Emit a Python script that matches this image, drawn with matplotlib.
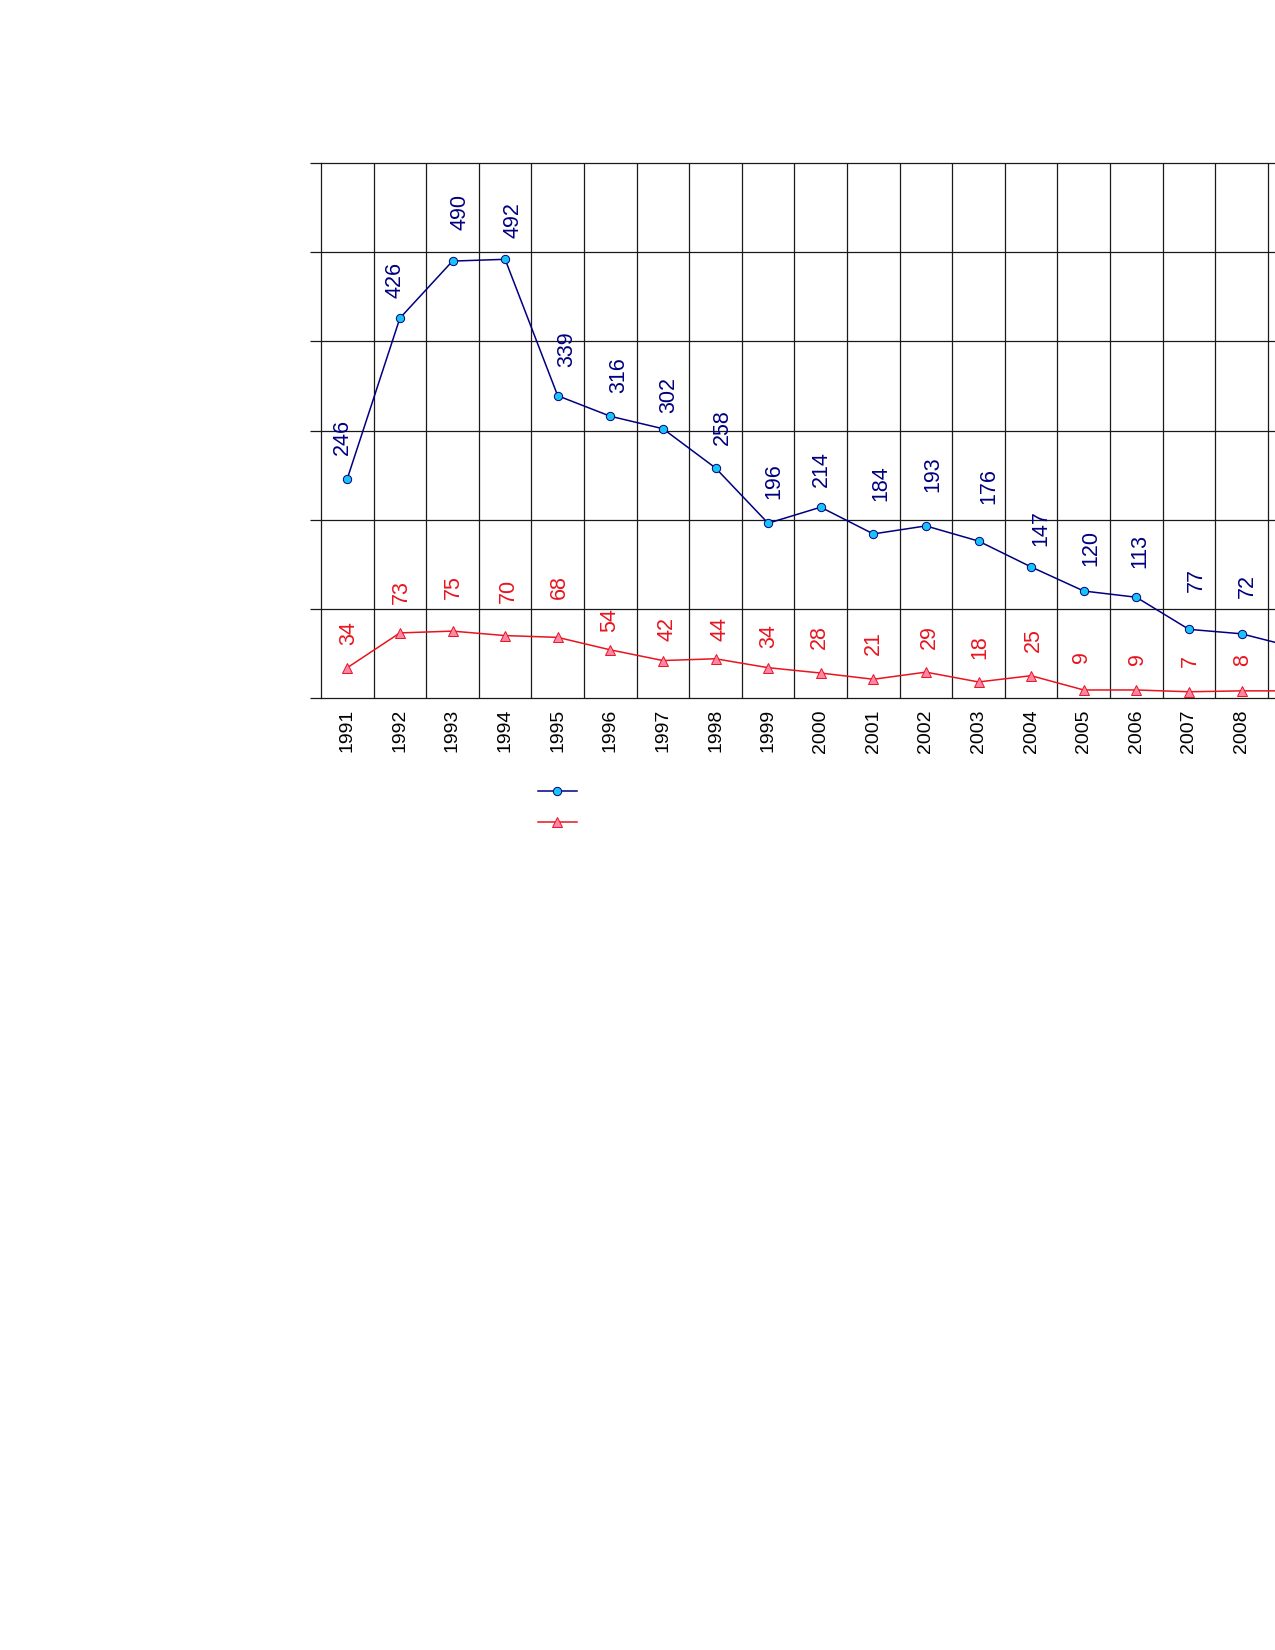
import numpy as np
import matplotlib
matplotlib.use('Agg')
import matplotlib.pyplot as plt
from matplotlib.lines import Line2D

plt.rcParams['font.family'] = ['Liberation Sans', 'DejaVu Sans']

years = ['1991', '1992', '1993', '1994', '1995', '1996', '1997', '1998', '1999', '2000',
         '2001', '2002', '2003', '2004', '2005', '2006', '2007', '2008', '2009']
blue_vals = [246, 426, 490, 492, 339, 316, 302, 258, 196, 214, 184, 193, 176, 147, 120, 113, 77, 72, 57]
red_vals = [34, 73, 75, 70, 68, 54, 42, 44, 34, 28, 21, 29, 18, 25, 9, 9, 7, 8, 8]

# label nudges in pixels (dx, dy from the point), as placed in the original
blue_dx = [-6, -6, 6, 7, 8, 7, 5, 6, 5, 0, 7, 6, 9, 9, 6, 3, 6, 5, 5]
blue_dy = [24, 20, 31, 21, 29, 23, 16, 23, 24, 20, 33, 34, 37, 21, 25, 29, 37, 36, 30]
red_dx = [0, 0, 0, 2, 1, -2, 3, 3, 0, -2, -1, 2, 0, 1, -3, 0, 0, 0, 0]
red_dy = [23, 29, 32, 33, 38, 18, 20, 18, 20, 24, 24, 23, 23, 24, 27, 25, 25, 25, 25]

BLUE = '#000080'
BLUE_FACE = '#19c3f5'
RED = '#e8141e'
RED_FACE = '#ff85a8'

x = np.arange(1, len(years) + 1)

fig = plt.figure(figsize=(12.75, 16.5), dpi=100)
ax = fig.add_axes([321 / 1275, 1 - 698 / 1650, 1 - 321 / 1275, (698 - 163) / 1650])

ax.plot(x, blue_vals, color=BLUE, lw=1.1, marker='o', ms=6, mfc=BLUE_FACE, mec=BLUE, mew=0.7, zorder=3)
ax.plot(x, red_vals, color=RED, lw=1.1, marker='^', ms=7, mfc=RED_FACE, mec=RED, mew=0.7, zorder=3)

# value labels above the points
for xi, v, dx, dy in zip(x, blue_vals, blue_dx, blue_dy):
    ax.annotate(str(v), (xi, v), xytext=(dx + 1, dy), textcoords='offset pixels',
                rotation=90, ha='center', va='bottom', color=BLUE, fontsize=15.5)
for xi, v, dx, dy in zip(x, red_vals, red_dx, red_dy):
    ax.annotate(str(v), (xi, v), xytext=(dx + 1, dy), textcoords='offset pixels',
                rotation=90, ha='center', va='bottom', color=RED, fontsize=15.5)

# grid: column boundaries and every 100
for b in np.arange(1.5, len(years) + 1, 1):
    ax.axvline(b, color='#1a1a1a', lw=0.9, zorder=1)
for g in range(100, 600, 100):
    ax.axhline(g, color='#1a1a1a', lw=0.9, zorder=1)

ax.set_yticks(range(0, 700, 100))
ax.set_yticklabels([])
ax.tick_params(axis='y', length=8, width=0.9, color='#1a1a1a')
ax.set_xticks(x)
ax.set_xticklabels(years, rotation=90, fontsize=14)
ax.tick_params(axis='x', length=0, pad=8)

# set limits after the ticks, so the last column is cut at the page edge
ax.set_xlim(0.5, 0.5 + (1275 - 321) / 52.6)
ax.set_ylim(0, 600)

ax.spines['right'].set_visible(False)
for s in ['left', 'top', 'bottom']:
    ax.spines[s].set_linewidth(0.9)
    ax.spines[s].set_color('#1a1a1a')

handles = [Line2D([], [], color=BLUE, lw=1.1, marker='o', ms=6, mfc=BLUE_FACE, mec=BLUE, mew=0.7),
           Line2D([], [], color=RED, lw=1.1, marker='^', ms=7, mfc=RED_FACE, mec=RED, mew=0.7)]
fig.legend(handles, ['', ''], loc='upper left', bbox_to_anchor=(528 / 1275, 1 - 774 / 1650),
           frameon=False, borderpad=0, handlelength=2.0, handletextpad=0, labelspacing=0.7,
           fontsize=14)

fig.savefig('out.png', dpi=100)
